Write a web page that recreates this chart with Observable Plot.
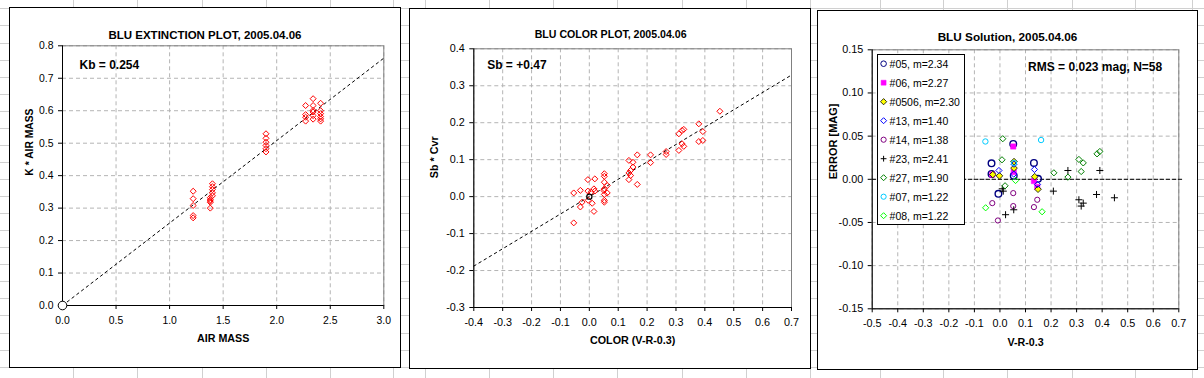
<!DOCTYPE html>
<html>
<head>
<meta charset="utf-8">
<script src="https://cdn.jsdelivr.net/npm/d3@7"></script>
<script src="https://cdn.jsdelivr.net/npm/@observablehq/plot@0.6"></script>
<style>
html, body { margin: 0; padding: 0; background: #fff; }
#sheet { position: relative; width: 1204px; height: 378px; overflow: hidden; background: #fff; }
.hl { position: absolute; left: 0; width: 1204px; height: 1px; background: #d0d0d0; }
.vl { position: absolute; top: 0; height: 378px; width: 1px; background: #d0d0d0; }
.panel { position: absolute; }
.panel svg { display: block; }
.border { position: absolute; left: 0; top: 0; box-sizing: border-box; border: 1px solid #000; pointer-events: none; }
</style>
</head>
<body>
<div id="sheet"></div>
<script>
// ---------------- DATA ----------------
// Panel 1: extinction plot
const p1Title = "BLU EXTINCTION PLOT, 2005.04.06";
const p1XLabel = "AIR MASS";
const p1YLabel = "K * AIR MASS";
const p1Note = "Kb = 0.254";
const p1XTicks = [0, 0.5, 1.0, 1.5, 2.0, 2.5, 3.0];
const p1YTicks = [0, 0.1, 0.2, 0.3, 0.4, 0.5, 0.6, 0.7, 0.8];
const airMass = [1.22, 1.22, 1.22, 1.22, 1.22,
  1.38, 1.38, 1.38, 1.38, 1.38,
  1.40, 1.40, 1.40, 1.40, 1.40,
  1.90, 1.90, 1.90, 1.90, 1.90, 1.90,
  2.27, 2.27, 2.27, 2.27,
  2.34, 2.34, 2.34, 2.34, 2.34, 2.34,
  2.41, 2.41, 2.41, 2.41, 2.41, 2.41];
const kAirMass = [0.352, 0.329, 0.308, 0.277, 0.270,
  0.332, 0.326, 0.322, 0.318, 0.300,
  0.375, 0.366, 0.357, 0.347, 0.338,
  0.529, 0.515, 0.503, 0.493, 0.483, 0.473,
  0.616, 0.588, 0.580, 0.568,
  0.637, 0.616, 0.601, 0.596, 0.585, 0.574,
  0.623, 0.600, 0.591, 0.582, 0.575, 0.568];
const p1FitX = [0, 3.0];
const p1FitY = [0, 0.762];
const p1OriginX = [0];
const p1OriginY = [0];

// Panel 2: color plot
const p2Title = "BLU COLOR PLOT, 2005.04.06";
const p2XLabel = "COLOR (V-R-0.3)";
const p2YLabel = "Sb * Cvr";
const p2Note = "Sb = +0.47";
const p2XTicks = [-0.4, -0.3, -0.2, -0.1, 0, 0.1, 0.2, 0.3, 0.4, 0.5, 0.6, 0.7];
const p2YTicks = [-0.3, -0.2, -0.1, 0, 0.1, 0.2, 0.3, 0.4];
const colorVR = [0.452, 0.379, 0.393, 0.379, 0.393, 0.327, 0.321, 0.310, 0.321, 0.327, 0.310, 0.266, 0.266,
  0.212, 0.212, 0.166, 0.166, 0.137, 0.151, 0.151, 0.143, 0.137, 0.143, 0.137,
  0.052, 0.052, 0.052, 0.062, 0.052, 0.050, 0.062, 0.052, 0.052, 0.052,
  -0.005, 0.019, 0.016, 0.019, -0.005, 0.006, -0.031, -0.054, -0.004, 0.010, -0.025, -0.031, 0.016, -0.054];
const sbCvr = [0.231, 0.197, 0.176, 0.149, 0.152, 0.182, 0.179, 0.170, 0.143, 0.136, 0.125, 0.122, 0.114,
  0.113, 0.092, 0.113, 0.033, 0.098, 0.093, 0.080, 0.071, 0.064, 0.057, 0.046,
  0.062, 0.055, 0.039, 0.030, 0.021, 0.017, 0.010, 0.006, -0.010, -0.015,
  0.046, 0.048, 0.021, 0.015, 0.015, 0.012, 0.017, 0.010, -0.010, -0.018, -0.015, -0.028, -0.040, -0.071];
const p2FitX = [-0.4, 0.7];
const p2FitY = [-0.188, 0.329];
const p2OriginX = [0];
const p2OriginY = [0];

// Panel 3: solution residuals
const p3Title = "BLU Solution, 2005.04.06";
const p3XLabel = "V-R-0.3";
const p3YLabel = "ERROR [MAG]";
const p3Note = "RMS = 0.023 mag, N=58";
const p3XTicks = [-0.5, -0.4, -0.3, -0.2, -0.1, 0, 0.1, 0.2, 0.3, 0.4, 0.5, 0.6, 0.7];
const p3YTicks = [-0.15, -0.10, -0.05, 0, 0.05, 0.10, 0.15];
const p3ZeroX = [-0.5, 0.72];
const p3ZeroY = [0, 0];
const seriesNames = ["#05, m=2.34", "#06, m=2.27", "#0506, m=2.30", "#13, m=1.40", "#14, m=1.38",
  "#23, m=2.41", "#27, m=1.90", "#07, m=1.22", "#08, m=1.22"];
const star05 = [[-0.033, 0.0185], [-0.033, 0.0062], [-0.006, -0.0168], [0.052, 0.0410], [0.054, 0.0040], [0.133, 0.0190], [0.149, 0.0005]];
const star06 = [[-0.030, 0.0055], [0.052, 0.0380], [0.054, 0.0085], [0.133, -0.0020], [0.146, -0.0090]];
const star0506 = [[-0.028, 0.0055], [-0.002, 0.0040], [0.055, 0.0205], [0.055, 0.0130], [0.136, 0.0030], [0.149, -0.0115]];
const star13 = [[-0.004, 0.0102], [0.055, 0.0175], [0.054, 0.0060], [0.135, 0.0114], [0.147, -0.0060]];
const star14 = [[-0.030, -0.0276], [0.052, -0.0160], [0.052, -0.0310], [-0.008, -0.0477], [0.133, -0.0322], [0.146, -0.0237]];
const star23 = [[0.009, -0.0110], [0.013, -0.0137], [0.022, -0.0410], [0.054, -0.0353], [0.209, -0.0137], [0.266, 0.0102],
  [0.309, -0.0237], [0.326, -0.0276], [0.318, -0.0310], [0.378, -0.0176], [0.391, 0.0102], [0.448, -0.0214]];
const star27 = [[0.011, 0.0470], [0.008, 0.0226], [0.020, -0.0075], [0.211, 0.0075], [0.266, 0.0025],
  [0.309, 0.0230], [0.326, 0.0190], [0.318, 0.0090], [0.380, 0.0295], [0.391, 0.0322]];
const star07 = [[-0.057, 0.0438], [0.161, 0.0455], [0.055, 0.0190]];
const star08 = [[-0.056, -0.0330], [0.061, -0.0014], [0.165, -0.0376]];
const seriesPoints = [star05, star06, star0506, star13, star14, star23, star27, star07, star08];

// ---------------- STYLE ----------------
const FONT = "'Liberation Sans', Arial, Helvetica, sans-serif";
const gridStyle = {stroke: "#b4b4b4", strokeOpacity: 1, strokeWidth: 1, strokeDasharray: "4,3"};
const fmt1 = d => (Math.abs(d) < 1e-9 ? 0 : d).toFixed(1);
const fmt2 = d => (Math.abs(d) < 1e-9 ? 0 : d).toFixed(2);
const seriesStyle = [
  {symbol: "circle", stroke: "#000080", fill: "none", r: 3.3, strokeWidth: 1.4, lr: 2.8},
  {symbol: "square", stroke: "#ff00ff", fill: "#ff00ff", r: 3.0, strokeWidth: 0.5, lr: 2.8},
  {symbol: "diamond2", stroke: "#000000", fill: "#ffff00", r: 3.0, strokeWidth: 0.8, lr: 2.8},
  {symbol: "diamond2", stroke: "#0000ff", fill: "none", r: 2.8, strokeWidth: 1, lr: 2.7},
  {symbol: "circle", stroke: "#800080", fill: "none", r: 2.6, strokeWidth: 1, lr: 2.6},
  {symbol: "plus", stroke: "#000000", fill: "none", r: 2.4, strokeWidth: 1, lr: 2.0},
  {symbol: "diamond2", stroke: "#008000", fill: "none", r: 2.8, strokeWidth: 1, lr: 2.7},
  {symbol: "circle", stroke: "#00ccff", fill: "none", r: 2.7, strokeWidth: 1, lr: 2.6},
  {symbol: "diamond2", stroke: "#00ff00", fill: "none", r: 2.8, strokeWidth: 1, lr: 2.7}
];

// ---------------- SHEET BACKGROUND ----------------
const sheet = document.getElementById("sheet");
const sheetCols = [73, 137, 202, 266, 330, 393, 425, 489, 553, 617, 682, 746, 810, 880, 943, 1007, 1072, 1135, 1192];
for (let k = 0; k < 23; k++) {
  const d = document.createElement("div");
  d.className = "hl";
  d.style.top = Math.round(8.4 + 17.06 * k) + "px";
  sheet.appendChild(d);
}
for (const x of sheetCols) {
  const d = document.createElement("div");
  d.className = "vl";
  d.style.left = x + "px";
  sheet.appendChild(d);
}

// ---------------- HELPERS ----------------
function mount(svg, left, top, width, height, extra) {
  const wrap = document.createElement("div");
  wrap.className = "panel";
  wrap.style.left = left + "px";
  wrap.style.top = top + "px";
  wrap.style.width = width + "px";
  wrap.style.height = height + "px";
  wrap.appendChild(svg);
  if (extra) wrap.appendChild(extra);
  const b = document.createElement("div");
  b.className = "border";
  b.style.width = width + "px";
  b.style.height = height + "px";
  wrap.appendChild(b);
  sheet.appendChild(wrap);
}

function frameMarks(xTicks, yTicks, fmtX, fmtY) {
  return [
    Plot.gridX(xTicks, gridStyle),
    Plot.gridY(yTicks, gridStyle),
    Plot.frame({stroke: "#808080"}),
    Plot.ruleX([xTicks[0]], {stroke: "#000"}),
    Plot.ruleY([yTicks[0]], {stroke: "#000"}),
    Plot.axisX(xTicks, {tickSize: 4, tickPadding: 7, tickFormat: fmtX, stroke: "#000", fill: "#000"}),
    Plot.axisY(yTicks, {tickSize: 4, tickPadding: 5, tickFormat: fmtY, stroke: "#000", fill: "#000"})
  ];
}

function labelMarks(o) {
  return [
    Plot.text([o.title], {frameAnchor: "top", dx: o.titleDx, dy: o.titleDy, fontWeight: "bold", fontSize: o.titleSize, fill: "#000"}),
    Plot.text([o.xLabel], {frameAnchor: "bottom", dy: o.xLabelDy, fontWeight: "bold", fontSize: o.axisLabelSize, fill: "#000"}),
    Plot.text([o.yLabel], {frameAnchor: "left", dx: o.yLabelDx, rotate: -90, fontWeight: "bold", fontSize: o.yLabelSize, fill: "#000"})
  ];
}

// ---------------- PANEL 1 ----------------
const pts1 = airMass.map((x, i) => ({x, y: kAirMass[i]}));
const fit1 = p1FitX.map((x, i) => ({x, y: p1FitY[i]}));
const org1 = p1OriginX.map((x, i) => ({x, y: p1OriginY[i]}));
const svg1 = Plot.plot({
  width: 392, height: 361,
  marginLeft: 53, marginRight: 17.7, marginTop: 38.3, marginBottom: 63,
  style: {fontFamily: FONT, fontSize: "10.4px", color: "#000", background: "#fff", overflow: "visible"},
  x: {domain: [p1XTicks[0], p1XTicks[p1XTicks.length - 1]], label: null},
  y: {domain: [p1YTicks[0], p1YTicks[p1YTicks.length - 1]], label: null},
  marks: [
    ...frameMarks(p1XTicks, p1YTicks, fmt1, fmt1),
    Plot.line(fit1, {x: "x", y: "y", stroke: "#000", strokeWidth: 1, strokeDasharray: "2.5,3.5"}),
    Plot.dot(pts1, {x: "x", y: "y", symbol: "diamond2", r: 2.7, stroke: "#ff0000", fill: "none", strokeWidth: 1}),
    Plot.dot(org1, {x: "x", y: "y", symbol: "circle", r: 4.3, stroke: "#000", fill: "#fff", strokeWidth: 1}),
    Plot.text([p1Note], {frameAnchor: "top-left", textAnchor: "start", dx: 17, dy: 14.7, fontWeight: "bold", fontSize: 12, fill: "#000"}),
    ...labelMarks({title: p1Title, titleDx: -18.2, titleDy: -15.3, titleSize: 11.5,
      xLabel: p1XLabel, xLabelDy: 36.7, axisLabelSize: 10.7,
      yLabel: p1YLabel, yLabelDx: -32.7, yLabelSize: 10.3})
  ]
});
mount(svg1, 9, 7, 392, 361);

// ---------------- PANEL 2 ----------------
const pts2 = colorVR.map((x, i) => ({x, y: sbCvr[i]}));
const fit2 = p2FitX.map((x, i) => ({x, y: p2FitY[i]}));
const org2 = p2OriginX.map((x, i) => ({x, y: p2OriginY[i]}));
const svg2 = Plot.plot({
  width: 402, height: 361,
  marginLeft: 64.3, marginRight: 20, marginTop: 40.3, marginBottom: 62,
  style: {fontFamily: FONT, fontSize: "10.8px", color: "#000", background: "#fff", overflow: "visible"},
  x: {domain: [p2XTicks[0], p2XTicks[p2XTicks.length - 1]], label: null},
  y: {domain: [p2YTicks[0], p2YTicks[p2YTicks.length - 1]], label: null},
  marks: [
    ...frameMarks(p2XTicks, p2YTicks, fmt1, fmt1),
    Plot.line(fit2, {x: "x", y: "y", stroke: "#000", strokeWidth: 1, strokeDasharray: "2.5,3.5"}),
    Plot.dot(pts2, {x: "x", y: "y", symbol: "diamond2", r: 2.7, stroke: "#ff0000", fill: "none", strokeWidth: 1}),
    Plot.dot(org2, {x: "x", y: "y", symbol: "circle", r: 2.6, stroke: "#000", fill: "none", strokeWidth: 1.2}),
    Plot.text([p2Note], {frameAnchor: "top-left", textAnchor: "start", dx: 13.4, dy: 11.7, fontWeight: "bold", fontSize: 12, fill: "#000"}),
    ...labelMarks({title: p2Title, titleDx: -22, titleDy: -18.3, titleSize: 10.6,
      xLabel: p2XLabel, xLabelDy: 36, axisLabelSize: 10.75,
      yLabel: p2YLabel, yLabelDx: -39.3, yLabelSize: 10.75})
  ]
});
mount(svg2, 409, 8, 402, 361);

// ---------------- PANEL 3 ----------------
const pts3 = seriesPoints.flatMap((arr, s) => arr.map(([x, y]) => ({x, y, s})));
const zero3 = p3ZeroX.map((x, i) => ({x, y: p3ZeroY[i]}));
const dotMarks3 = seriesStyle.map((st, s) =>
  Plot.dot(pts3.filter(d => d.s === s), {x: "x", y: "y", symbol: st.symbol, r: st.r, stroke: st.stroke, fill: st.fill, strokeWidth: st.strokeWidth})
);
const svg3 = Plot.plot({
  width: 381, height: 360,
  marginLeft: 54.7, marginRight: 19.7, marginTop: 39.3, marginBottom: 61.7,
  style: {fontFamily: FONT, fontSize: "10.8px", color: "#000", background: "#fff", overflow: "visible"},
  x: {domain: [p3XTicks[0], p3XTicks[p3XTicks.length - 1]], label: null},
  y: {domain: [p3YTicks[0], p3YTicks[p3YTicks.length - 1]], label: null},
  marks: [
    ...frameMarks(p3XTicks, p3YTicks, fmt1, fmt2),
    Plot.line(zero3, {x: "x", y: "y", stroke: "#000", strokeWidth: 1, strokeDasharray: "3.5,2.5"}),
    ...dotMarks3,
    Plot.text([p3Note], {frameAnchor: "top-right", textAnchor: "end", dx: -16.6, dy: 12.7, fontWeight: "bold", fontSize: 12, fill: "#000"}),
    ...labelMarks({title: p3Title, titleDx: -18, titleDy: -17, titleSize: 11.75,
      xLabel: p3XLabel, xLabelDy: 36.7, axisLabelSize: 10.7,
      yLabel: p3YLabel, yLabelDx: -39, yLabelSize: 11})
  ]
});

// legend (box inside plot area, upper-left)
const LW = 88, LH = 171;
const legendDiv = document.createElement("div");
legendDiv.style.cssText = "position:absolute;left:59.7px;top:44.3px;width:" + LW + "px;height:" + LH + "px;";
const lsvg = d3.create("svg").attr("width", LW).attr("height", LH).style("display", "block");
lsvg.append("rect").attr("x", 0.5).attr("y", 0.5).attr("width", LW - 1).attr("height", LH - 1)
  .attr("fill", "#fff").attr("stroke", "#000").attr("stroke-width", 1);
const d3sym = {circle: d3.symbolCircle, square: d3.symbolSquare, diamond2: d3.symbolDiamond2, plus: d3.symbolPlus};
seriesNames.forEach((name, i) => {
  const st = seriesStyle[i];
  const cy = 9.7 + i * 19;
  lsvg.append("path")
    .attr("transform", `translate(6.6,${cy})`)
    .attr("d", d3.symbol(d3sym[st.symbol], Math.PI * st.lr * st.lr)())
    .attr("fill", st.fill).attr("stroke", st.stroke).attr("stroke-width", Math.min(st.strokeWidth, 1));
  lsvg.append("text")
    .attr("x", 12.6).attr("y", cy + 3.8)
    .attr("font-family", FONT).attr("font-size", 10.5).attr("fill", "#000")
    .text(name);
});
legendDiv.appendChild(lsvg.node());
mount(svg3, 817, 10, 381, 360, legendDiv);
</script>
</body>
</html>
